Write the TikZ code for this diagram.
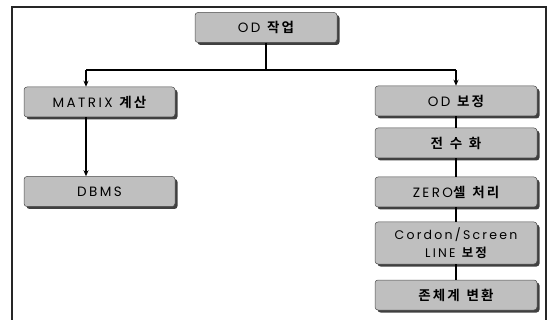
\documentclass[tikz,border=0pt]{standalone}
\usepackage{fontspec}
\setmainfont{Poppins}[LetterSpace=18]
\newfontfamily\kr{Noto Sans CJK KR}[LetterSpace=16,BoldFont=* Bold]
\usetikzlibrary{shadows,arrows.meta}
\tikzset{
  box/.style={draw=black!70, line width=0.5pt, fill=gray!50, rounded corners=3pt,
    minimum height=30pt, inner sep=2pt, align=center,
    font=\fontsize{13.5}{15}\selectfont,
    drop shadow={shadow xshift=2.5pt, shadow yshift=-2.5pt, fill=black!75, opacity=1}},
  conn/.style={line width=1.3pt, black},
  arr/.style={conn, -{Stealth[length=6pt,width=5pt]}},
  frame/.style={line width=1.1pt, black!85}
}
\begin{document}
\begin{tikzpicture}[x=1pt,y=-1pt]
\useasboundingbox (0,0) rectangle (551,320);
\draw[frame] (12,320) -- (12,7) -- (546,7) -- (546,320);

\node[box, minimum width=142pt] (od) at (266,27.5) {OD\enspace{\kr\bfseries 작업}};
\node[box, minimum width=151pt] (mat) at (99.5,102) {MATRIX\enspace{\kr\bfseries 계산}};
\node[box, minimum width=151pt] (db) at (99.5,191.5) {DBMS};
\node[box, minimum width=162pt] (odb) at (456,101) {OD\enspace{\kr\bfseries 보정}};
\node[box, minimum width=162pt] (jsh) at (456,143) {\kr\bfseries 전\enspace 수\enspace 화};
\node[box, minimum width=162pt] (zero) at (456,192) {ZERO{\kr\bfseries 셀\enspace 처리}};
\node[box, minimum width=162pt, minimum height=42pt, inner sep=1pt, font=\fontsize{12.5}{18}\selectfont] (cord) at (456,243) {Cordon/Screen\\LINE\enspace{\kr\bfseries 보정}};
\node[box, minimum width=162pt] (zone) at (456,295) {\kr\bfseries 존체계\enspace 변환};

\coordinate (jm) at (266,70);
\coordinate (jl) at (86,70);
\coordinate (jr) at (456,70);

\draw[conn] (od.south) -- (jm);
\draw[conn] (jl) -- (jr);
\draw[arr] (jl) -- (jl |- mat.north);
\draw[arr] (jr) -- (odb.north);
\draw[arr] (jl |- mat.south) -- (jl |- db.north);
\draw[conn] (odb.south) -- (jsh.north);
\draw[conn] (jsh.south) -- (zero.north);
\draw[conn] (zero.south) -- (cord.north);
\draw[conn] (cord.south) -- (zone.north);
\end{tikzpicture}
\end{document}
